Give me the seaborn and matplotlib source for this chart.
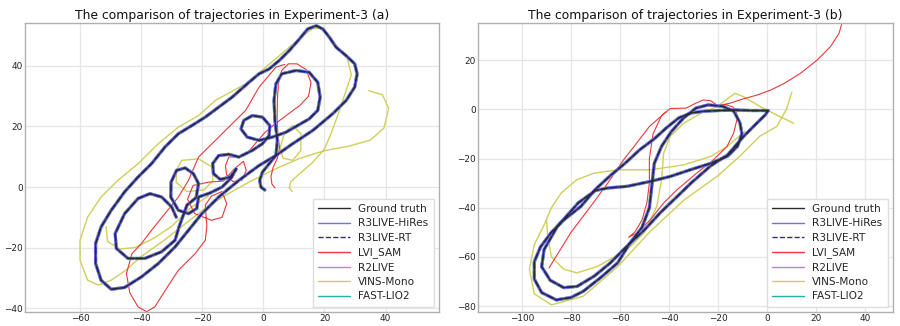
import matplotlib
matplotlib.use("Agg")
import matplotlib.pyplot as plt
import seaborn as sns
import pandas as pd
import numpy as np
from matplotlib.lines import Line2D

# ---------------- data ----------------
methods = ["Ground truth", "R3LIVE-HiRes", "R3LIVE-RT", "LVI_SAM", "R2LIVE", "VINS-Mono", "FAST-LIO2"]
titles = ["The comparison of trajectories in Experiment-3 (a)",
          "The comparison of trajectories in Experiment-3 (b)"]

# Experiment-3 (a): ground-truth-like path (R3LIVE / R2LIVE / FAST-LIO2 overlap it)
a_gt_x = [0.5, -0.8, -1.2, -0.3, 1.9, 4.1, 9.6, 16.2, 22.7, 27.1, 29.9, 30.7, 29.9, 27.1, 23.8, 21.6, 19.5, 17.3,
          14.5, 11.8, 8.5, 5.2, 1.9, -1.4, -4.7, -10.2, -14.6, -19.0, -23.4, -27.8, -32.2, -36.6, -41.0, -45.4,
          -49.8, -53.1, -54.9, -54.9, -53.1, -49.8, -45.4, -39.9, -34.4, -28.9, -24.5, -20.1, -14.6, -8.0, -1.4,
          4.1, 4.6, 3.8, 3.5, 4.1, 6.0, 10.7, 15.0, 17.8, 18.6, 17.8, 15.0, 11.2, 7.4, 3.0, -1.4, -5.3, -7.3,
          -6.4, -3.6, -0.3, 2.1, 1.9, -0.3, -3.6, -8.0, -11.3, -14.6, -16.6, -16.3, -14.1, -10.8, -8.9, -10.5,
          -13.5, -17.5, -21.2, -21.8, -24.5, -27.8, -30.3, -30.2, -28.4, -25.6, -22.9, -21.2, -22.0, -25.0,
          -27.6, -28.9, -33.3, -38.8, -44.3, -48.1, -48.5, -45.4, -41.0, -37.1, -33.3, -30.0, -28.5]
a_gt_y = [-1.0, 0.0, 2.2, 4.9, 7.7, 10.4, 14.3, 18.7, 24.2, 28.6, 33.0, 37.4, 40.7, 43.4, 46.2, 49.5, 52.2, 53.3,
          52.2, 48.9, 45.1, 41.8, 39.0, 37.4, 34.6, 29.7, 26.4, 23.1, 20.3, 17.6, 13.2, 7.7, 3.3, -1.6,
          -7.7, -13.2, -18.7, -25.3, -30.8, -33.8, -33.2, -29.7, -25.3, -19.8, -14.3, -8.8, -3.3, 2.2, 7.1,
          10.4, 15.4, 22.0, 28.6, 34.0, 37.4, 38.5, 37.9, 34.6, 29.7, 25.3, 22.5, 20.3, 18.1, 16.5, 15.4, 16.5, 19.2,
          22.0, 23.6, 23.1, 20.3, 17.0, 14.3, 12.1, 9.9, 10.8, 10.4, 7.7, 4.4, 2.5, 3.3, 6.0, 3.0,
          0.0, -2.0, -3.3, -7.1, -8.8, -7.7, -3.3, 1.6, 5.5, 6.3, 4.4, 1.1, -3.5, -6.0,
          -13.2, -17.6, -21.4, -23.6, -23.6, -20.3, -15.4, -8.8, -3.8, -2.2, -3.3, -6.6, -10.0]

a_lvi_x = [3.8, 2.8, 2.5, 3.2, 4.6, 5.3, 4.8, 4.5, 4.6, 4.9, 6.0, 8.2, 11.0, 14.0, 15.6, 14.8, 12.0, 8.0, 4.0, 0.5,
           -2.5, -5.0, -8.0, -11.3, -12.4, -12.0, -10.0, -7.0, -5.6, -6.5, -9.5, -13.0, -17.9, -23.0, -24.8, -22.5,
           -17.0, -13.5, -12.0, -13.5, -17.0, -19.0, -18.5, -19.0, -22.3, -27.8, -32.0, -35.5, -38.2, -41.0, -43.7,
           -44.8, -43.0, -39.9, -36.6, -32.2, -27.8, -24.5, -21.2, -15.7, -10.2, -5.8, -1.4, 4.1, 7.0]
a_lvi_y = [-0.3, 1.0, 3.5, 6.5, 9.5, 13.0, 17.0, 22.0, 28.6, 34.0, 38.5, 40.7, 40.7, 38.8, 34.5, 30.0, 27.0, 24.0, 21.0, 18.0,
           14.5, 11.5, 10.0, 9.9, 7.0, 4.0, 1.8, 2.2, 5.5, 8.5, 6.0, 2.0, 1.6, 0.5, -4.0, -8.8,
           -11.0, -10.0, -5.5, -1.5, -3.0, -6.0, -13.0, -17.6, -22.0, -27.5, -34.0, -39.6, -41.2, -39.6, -35.0,
           -28.6, -22.0, -18.7, -14.3, -8.8, -3.3, 2.2, 9.9, 15.4, 20.9, 25.3, 33.0, 39.6, 40.5]

a_vins_seg = [0] * 48 + [1] * 8 + [2] * 9 + [3] * 8
a_vins_x = [9.5, 8.5, 9.0, 12.0, 16.0, 20.0, 22.5, 24.9, 27.1, 28.8, 27.5, 24.5, 21.5, 18.5, 16.0, 13.0, 8.5, 0.8,
            -5.8, -15.7, -21.2, -27.8, -34.4, -41.0, -47.6, -53.1, -57.5, -60.0, -60.0, -57.5, -54.0, -49.8, -45.0,
            -40.0, -33.0, -26.0, -19.0, -12.0, -4.0, 4.0, 12.0, 20.0, 28.0, 35.0, 39.5, 41.0, 39.0, 34.5,
            -51.5, -51.0, -47.0, -42.0, -36.0, -30.0, -24.0, -18.0,
            -26.7, -21.2, -16.8, -16.5, -19.5, -25.0, -28.5, -28.5, -26.7,
            9.6, 12.3, 12.3, 9.6, 6.5, 5.5, 7.0, 9.6]
a_vins_y = [-1.5, -0.3, 1.8, 4.5, 8.0, 12.5, 18.5, 25.3, 31.9, 37.0, 42.5, 46.0, 50.0, 52.5, 52.3, 50.0, 46.2, 39.6,
            34.1, 28.6, 23.6, 19.8, 14.3, 7.7, 2.2, -3.3, -9.9, -17.6, -24.2, -30.8, -32.4, -30.8, -27.5,
            -23.0, -18.0, -12.5, -7.0, -2.5, 2.0, 6.0, 9.5, 12.0, 13.5, 15.5, 19.5, 26.0, 30.5, 31.8,
            -13.0, -18.0, -20.5, -20.0, -17.0, -13.0, -7.0, -3.0,
            8.8, 9.3, 6.6, 2.0, -1.0, -1.5, 1.5, 5.5, 8.8,
            20.3, 17.6, 12.1, 8.8, 9.5, 13.0, 18.0, 20.3]

# Experiment-3 (b)
b_gt_x = [0.5, -6.0, -13.0, -20.0, -26.0, -31.0, -36.0, -41.0, -46.0, -52.0, -58.0, -64.0, -70.0, -76.0, -83.0,
          -88.0, -92.5, -95.0, -95.0, -92.0, -86.0, -80.0, -75.0, -68.0, -61.0, -56.0, -51.0, -48.0, -47.0, -46.0,
          -43.0, -39.0, -34.0, -29.0, -24.0, -18.0, -13.5, -11.0, -10.2, -12.0, -16.0, -23.0, -31.0, -39.5, -47.5,
          -57.0, -65.0, -70.0, -77.0, -85.5, -91.0, -92.0, -88.5, -83.0, -77.5, -70.5, -64.0, -57.0, -50.0, -43.5,
          -36.7, -31.0, -23.0, -16.0, -9.5, -4.0, -0.7, 0.5]
b_gt_y = [-0.5, -0.5, -0.3, -0.5, -0.8, -1.5, -3.5, -7.5, -12.0, -16.5, -22.0, -27.0, -32.5, -39.5, -45.0,
          -50.0, -56.0, -62.0, -69.0, -74.5, -77.5, -76.5, -74.0, -68.5, -62.5, -54.5, -48.0, -40.0, -31.0, -22.0,
          -15.0, -9.0, -3.5, 0.5, 1.8, 1.2, -0.8, -5.5, -10.0, -15.0, -19.0, -22.0, -24.5, -27.3, -29.3,
          -31.3, -32.0, -33.0, -38.0, -47.5, -57.0, -64.0, -69.5, -72.5, -72.0, -67.8, -62.5, -55.5, -49.0, -42.0,
          -35.5, -30.0, -23.0, -18.5, -11.0, -5.5, -2.3, -0.5]

b_lvi_seg = [0] * 37 + [1] * 9
b_lvi_x = [30.5, 29.5, 26.0, 20.5, 13.5, 7.0, 1.5, -4.0, -9.5, -15.0, -20.0, -23.0, -26.0, -29.0, -33.0, -39.5,
           -43.0, -46.5, -48.0, -48.0, -49.0, -51.0, -54.0, -56.5, -53.0, -47.6, -42.2, -36.7, -28.6, -21.8, -16.3,
           -13.6, -12.2, -12.5, -14.0, -16.5, -19.0,
           -41.0, -44.0, -48.0, -53.0, -58.5, -65.0, -72.0, -80.0, -89.0]
b_lvi_y = [34.5, 31.0, 25.5, 20.0, 14.5, 10.5, 7.8, 5.8, 4.3, 2.5, 1.5, 3.5, 3.8, 2.5, 0.5, 0.3,
           -2.5, -10.0, -20.0, -30.0, -38.0, -45.0, -50.0, -52.0, -50.3, -44.9, -38.1, -32.7, -25.9, -20.5, -15.1,
           -9.7, -4.0, -0.5, 1.0, 1.8, 1.5,
           -1.0, -3.5, -7.0, -13.5, -20.5, -30.0, -39.5, -50.0, -64.5]

b_vins_seg = [0] * 26 + [1] * 21
b_vins_x = [10.2, 8.0, 4.0, -3.0, -11.0, -20.0, -34.0, -48.0, -61.0, -75.0, -88.0, -95.0, -97.0, -95.0, -91.0,
            -88.0, -84.0, -77.6, -70.7, -61.0, -47.6, -34.0, -23.0, -16.0, -12.0, -9.0,
            11.0, 4.0, -2.7, -9.5, -13.0, -15.0, -20.4, -27.0, -34.0, -39.5, -42.2, -43.0, -45.0, -50.0, -57.0,
            -69.0, -77.6, -83.0, -88.0, -89.5, -90.0]
b_vins_y = [7.0, 0.0, -7.0, -11.0, -19.0, -27.0, -37.0, -50.0, -64.0, -76.0, -79.5, -75.0, -65.0, -55.0, -47.0,
            -40.0, -34.0, -28.6, -26.0, -24.6, -24.6, -22.6, -19.2, -15.0, -11.5, -9.0,
            -5.7, -2.3, 1.1, 5.1, 6.5, 5.1, 1.1, -1.6, -5.7, -11.0, -18.0, -28.6, -39.5, -50.0, -57.0,
            -63.8, -66.5, -65.0, -60.0, -52.0, -45.0]

# ---------------- style ----------------
colors = {"Ground truth": "#2b2b2b", "R3LIVE-HiRes": "#6f6ff5", "R3LIVE-RT": "#2a2a9a",
          "LVI_SAM": "#e8383d", "R2LIVE": "#c77be0", "VINS-Mono": "#cfcf5a", "FAST-LIO2": "#1fb0a8"}

sns.set_theme(style="whitegrid")
plt.rcParams["font.family"] = ["DejaVu Sans"]
plt.rcParams.update({"grid.color": "#e6e6e6", "grid.linewidth": 0.9,
                     "axes.edgecolor": "#b0b0b0", "axes.linewidth": 1.0,
                     "xtick.color": "#222222", "ytick.color": "#222222"})

fig = plt.figure(figsize=(9, 3.26), dpi=100)
ax_a = fig.add_axes([0.0278, 0.043, 0.460, 0.8865])
ax_b = fig.add_axes([0.5311, 0.043, 0.4611, 0.8865])


def draw(ax, x, y, color, lw, ls="-", seg=None, alpha=1.0):
    df = pd.DataFrame({"x": x, "y": y, "seg": seg if seg is not None else [0] * len(x)})
    sns.lineplot(data=df, x="x", y="y", units="seg", estimator=None, sort=False,
                 color=color, lw=lw, linestyle=ls, ax=ax, legend=False, alpha=alpha)


def panel(ax, gx, gy, lx, ly, lseg, vx, vy, vseg):
    draw(ax, vx, vy, colors["VINS-Mono"], 1.0, seg=vseg)
    draw(ax, lx, ly, colors["LVI_SAM"], 0.8, seg=lseg)
    draw(ax, gx, gy, colors["FAST-LIO2"], 2.4)
    draw(ax, gx, gy, colors["R2LIVE"], 2.1)
    draw(ax, gx, gy, colors["R3LIVE-HiRes"], 1.9)
    draw(ax, gx, gy, colors["R3LIVE-RT"], 1.3, ls="--")
    draw(ax, gx, gy, colors["Ground truth"], 0.9)


panel(ax_a, a_gt_x, a_gt_y, a_lvi_x, a_lvi_y, None, a_vins_x, a_vins_y, a_vins_seg)
panel(ax_b, b_gt_x, b_gt_y, b_lvi_x, b_lvi_y, b_lvi_seg, b_vins_x, b_vins_y, b_vins_seg)

ax_a.set_xlim(-78, 57.5)
ax_a.set_ylim(-41.3, 54.2)
ax_a.set_xticks([-60, -40, -20, 0, 20, 40])
ax_a.set_yticks([-40, -20, 0, 20, 40])
ax_b.set_xlim(-118, 51.5)
ax_b.set_ylim(-82.4, 35.1)
ax_b.set_xticks([-100, -80, -60, -40, -20, 0, 20, 40])
ax_b.set_yticks([-80, -60, -40, -20, 0, 20])

handles = [Line2D([0], [0], color=colors[m], lw=1.0, ls="--" if m == "R3LIVE-RT" else "-") for m in methods]
for ax, t in zip([ax_a, ax_b], titles):
    ax.set_title(t, fontsize=8.9, pad=3, color="#111111")
    ax.set_xlabel("")
    ax.set_ylabel("")
    ax.tick_params(labelsize=6.4, pad=1.5, length=0)
    ax.legend(handles=handles, labels=methods, loc="lower right", fontsize=7.6,
              frameon=True, edgecolor="#dddddd", fancybox=False, framealpha=1,
              handlelength=3.0, labelspacing=0.42, borderpad=0.5)

fig.savefig("out.png", dpi=100)
